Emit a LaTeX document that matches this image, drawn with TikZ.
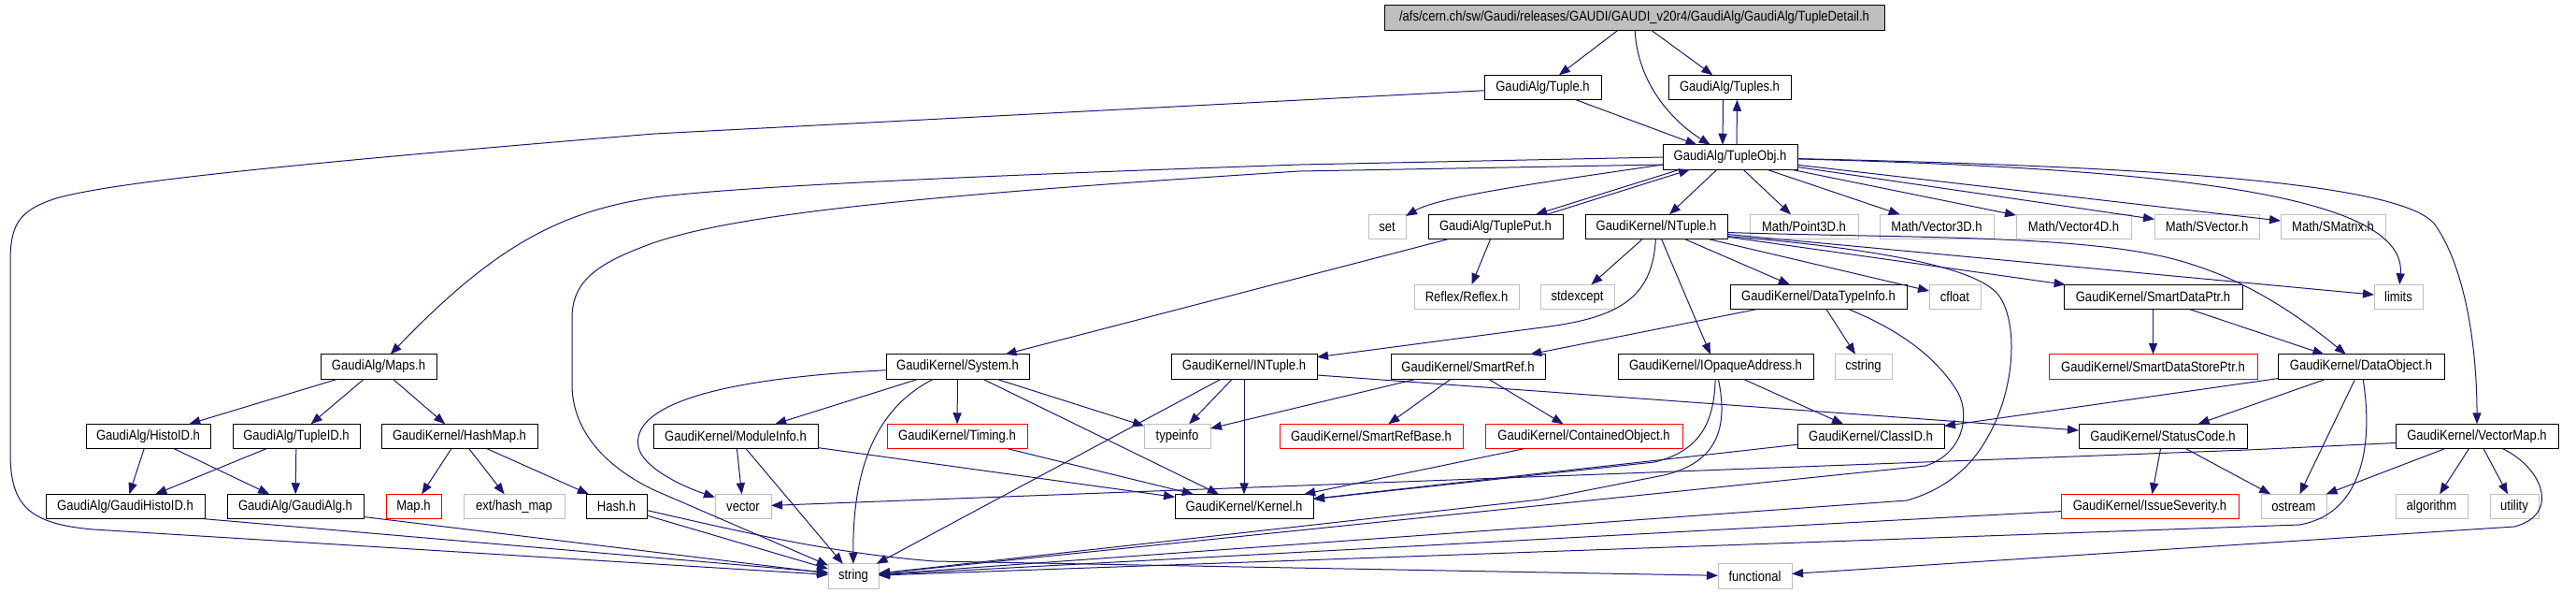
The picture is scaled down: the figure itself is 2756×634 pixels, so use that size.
\documentclass[tikz,border=0pt]{standalone}
\usepackage{fontspec}
\setmainfont{Liberation Sans}[FakeStretch=0.87]
\usetikzlibrary{arrows.meta}
\definecolor{edgec}{HTML}{191970}
\definecolor{greyb}{HTML}{BFBFBF}
\tikzset{
 nd/.style={draw=black, line width=0.5pt, minimum height=13.25pt, inner sep=0pt, outer sep=0pt, font=\fontsize{7.5}{9}\selectfont, text=black, minimum width=#1},
 gn/.style={nd=#1, draw=greyb},
 rn/.style={nd=#1, draw=red},
 edg/.style={draw=edgec, line width=0.5pt, -{Triangle[length=6pt,width=4.6pt]}}
}
\begin{document}
\begin{tikzpicture}[x=0.5pt,y=-0.5pt]
\useasboundingbox (0,0) rectangle (2756,634);
% row 0
\node[nd=267.5pt, fill=greyb] (top) at (1748.5,19) {/afs/cern.ch/sw/Gaudi/releases/GAUDI/GAUDI\_v20r4/GaudiAlg/GaudiAlg/TupleDetail.h};
% row 1
\node[nd=62.5pt] (tuple) at (1650.5,93.5) {GaudiAlg/Tuple.h};
\node[nd=65.5pt] (tuples) at (1850.5,93.5) {GaudiAlg/Tuples.h};
% row 2
\node[nd=72pt] (tobj) at (1851,168) {GaudiAlg/TupleObj.h};
% row 3
\node[gn=20pt] (set) at (1484,242.5) {set};
\node[nd=72pt] (tput) at (1600,242.5) {GaudiAlg/TuplePut.h};
\node[nd=76pt] (ntuple) at (1772,242.5) {GaudiKernel/NTuple.h};
\node[gn=58pt] (p3d) at (1930,242.5) {Math/Point3D.h};
\node[gn=61pt] (v3d) at (2072,242.5) {Math/Vector3D.h};
\node[gn=61.5pt] (v4d) at (2218.5,242.5) {Math/Vector4D.h};
\node[gn=56pt] (svec) at (2361,242.5) {Math/SVector.h};
\node[gn=56pt] (smat) at (2496,242.5) {Math/SMatrix.h};
% row 4
\node[gn=56pt] (reflex) at (1569,317.5) {Reflex/Reflex.h};
\node[gn=39.5pt] (stdexc) at (1687.5,317.5) {stdexcept};
\node[nd=94.5pt] (dti) at (1945.5,317.5) {GaudiKernel/DataTypeInfo.h};
\node[gn=27.5pt] (cfloat) at (2091.5,317.5) {cfloat};
\node[nd=95.5pt] (sdp) at (2303.5,317.5) {GaudiKernel/SmartDataPtr.h};
\node[gn=26pt] (limits) at (2566,317.5) {limits};
% row 5
\node[nd=62pt] (maps) at (405,392) {GaudiAlg/Maps.h};
\node[nd=76.5pt] (system) at (1024.5,392) {GaudiKernel/System.h};
\node[nd=78pt] (intuple) at (1331,392) {GaudiKernel/INTuple.h};
\node[nd=82.5pt] (sref) at (1570.5,392) {GaudiKernel/SmartRef.h};
\node[nd=104.5pt] (ioa) at (1835.5,392) {GaudiKernel/IOpaqueAddress.h};
\node[gn=30.5pt] (cstring) at (1993.5,392) {cstring};
\node[rn=111.5pt] (sdsp) at (2303.5,392) {GaudiKernel/SmartDataStorePtr.h};
\node[nd=89pt] (dobj) at (2526,392) {GaudiKernel/DataObject.h};
% row 6
\node[nd=66.5pt] (histoid) at (158.5,466.5) {GaudiAlg/HistoID.h};
\node[nd=68pt] (tupleid) at (317,466.5) {GaudiAlg/TupleID.h};
\node[nd=83.5pt] (hashmap) at (491.5,466.5) {GaudiKernel/HashMap.h};
\node[nd=88pt] (modinfo) at (787,466.5) {GaudiKernel/ModuleInfo.h};
\node[rn=75pt] (timing) at (1024,466.5) {GaudiKernel/Timing.h};
\node[gn=35.5pt] (typeinfo) at (1259.5,466.5) {typeinfo};
\node[rn=98pt] (srefbase) at (1467,466.5) {GaudiKernel/SmartRefBase.h};
\node[rn=105.5pt] (cobj) at (1694.5,466.5) {GaudiKernel/ContainedObject.h};
\node[nd=78.5pt] (classid) at (2001.5,466.5) {GaudiKernel/ClassID.h};
\node[nd=90pt] (scode) at (2314,466.5) {GaudiKernel/StatusCode.h};
\node[nd=87pt] (vmap) at (2650,466.5) {GaudiKernel/VectorMap.h};
% row 7
\node[nd=85pt] (ghid) at (134,541.5) {GaudiAlg/GaudiHistoID.h};
\node[nd=73pt] (galg) at (316,541.5) {GaudiAlg/GaudiAlg.h};
\node[rn=29.5pt] (maph) at (442.5,541.5) {Map.h};
\node[gn=54pt] (exthm) at (550,541.5) {ext/hash\_map};
\node[nd=32.5pt] (hash) at (659.5,541.5) {Hash.h};
\node[gn=30pt] (vector) at (795,541.5) {vector};
\node[nd=74pt] (kernel) at (1331,541.5) {GaudiKernel/Kernel.h};
\node[rn=95pt] (isev) at (2300,541.5) {GaudiKernel/IssueSeverity.h};
\node[gn=35pt] (ostream) at (2454,541.5) {ostream};
\node[gn=38.5pt] (algo) at (2601.5,541.5) {algorithm};
\node[gn=26pt] (utility) at (2690,541.5) {utility};
% row 8
\node[gn=27pt] (string) at (913,616) {string};
\node[gn=39.5pt] (functional) at (1877.5,616) {functional};

% ---- edges ----
\draw[edg] (top) -- (tuple);
\draw[edg] (top) -- (tuples);
\draw[edg] (top) .. controls (1752,90) and (1790,130) .. (tobj);
\draw[edg] (tuple) -- (tobj);
\draw[edg] ([xshift=-3.5pt]tuples.south) -- ([xshift=-4pt]tobj.north);
\draw[edg] ([xshift=3.5pt]tobj.north) -- ([xshift=4pt]tuples.south);
\draw[edg] (tuple) -- (700,143) .. controls (300,176) and (120,195) .. (60,212) .. controls (20,225) and (11,240) .. (11,280) -- (11,484) .. controls (11,540) and (30,560) .. (100,566) -- (string);
\draw[edg] (tobj.west) -- (1390,176) .. controls (1100,186) and (800,198) .. (700,211) .. controls (600,226) and (530,262) .. (maps);
\draw[edg] ([yshift=-4pt]tobj.west) -- (1390,183) .. controls (1000,208) and (780,228) .. (690,263) .. controls (640,282) and (612,300) .. (612,340) -- (612,414) .. controls (614,470) and (660,505) .. (700,524) -- (string);
\draw[edg] ([yshift=-4pt]tobj.west) .. controls (1650,195) and (1540,210) .. (set);
\draw[edg] ([xshift=-27pt]tobj.south) -- ([xshift=21.5pt]tput.north);
\draw[edg] ([xshift=27.5pt]tput.north) -- ([xshift=-21.5pt]tobj.south);
\draw[edg] (tobj) -- (ntuple);
\draw[edg] (tobj) -- (p3d);
\draw[edg] (tobj) -- (v3d);
\draw[edg] (tobj) -- (v4d);
\draw[edg] (tobj) -- (svec);
\draw[edg] (tobj) -- (smat);
\draw[edg] (tobj) .. controls (2300,180) and (2576,205) .. (limits);
\draw[edg] (tobj) .. controls (2300,178) and (2570,195) .. (2605,240) .. controls (2640,290) and (2650,380) .. (vmap);

\draw[edg] (tput) -- (reflex);
\draw[edg] (tput) -- (system);

\draw[edg] (ntuple) -- (stdexc);
\draw[edg] (ntuple) .. controls (1768,320) and (1730,340) .. (1650,350) -- (intuple);
\draw[edg] (ntuple) -- (ioa);
\draw[edg] (ntuple) -- (dti);
\draw[edg] (ntuple) -- (cfloat);
\draw[edg] (ntuple) -- (sdp);
\draw[edg] ([yshift=-4pt]ntuple.east) -- (limits);
\draw[edg] ([yshift=-3pt]ntuple.east) .. controls (2050,255) and (2250,250) .. (2346,283) .. controls (2400,300) and (2450,330) .. (dobj);
\draw[edg] ([yshift=-5pt]ntuple.east) .. controls (2000,265) and (2120,285) .. (2140,318) .. controls (2160,350) and (2155,420) .. (2125,470) .. controls (2105,505) and (2075,525) .. (2040,535) -- (string);

\draw[edg] (dti) -- (sref);
\draw[edg] (dti) -- (cstring);
\draw[edg] (dti) .. controls (2050,360) and (2080,395) .. (2095,420) .. controls (2108,445) and (2100,485) .. (2060,498) -- (string);

\draw[edg] (sdp) -- (sdsp);
\draw[edg] (sdp) -- (dobj);
\draw[edg] (dobj) -- (classid);
\draw[edg] (dobj) -- (scode);
\draw[edg] (dobj) -- (ostream);
\draw[edg] (dobj) .. controls (2540,480) and (2525,550) .. (2460,561) -- (string);
\draw[edg] (scode) -- (isev);
\draw[edg] (scode) -- (ostream);
\draw[edg] (isev) -- (string);
\draw[edg] ([yshift=-3.5pt]vmap.west) -- (2404,481) -- (vector);
\draw[edg] (vmap) -- (ostream);
\draw[edg] (vmap) -- (algo);
\draw[edg] (vmap) -- (utility);
\draw[edg] (vmap) .. controls (2720,500) and (2740,550) .. (2690,563) -- (functional);

\draw[edg] (maps) -- (histoid);
\draw[edg] (maps) -- (tupleid);
\draw[edg] (maps) -- (hashmap);
\draw[edg] (histoid) -- (ghid);
\draw[edg] (histoid) -- (galg);
\draw[edg] (tupleid) -- (ghid);
\draw[edg] (tupleid) -- (galg);
\draw[edg] (hashmap) -- (maph);
\draw[edg] (hashmap) -- (exthm);
\draw[edg] (hashmap) -- (hash);
\draw[edg] (ghid.south east) -- ([yshift=2pt]string.west);
\draw[edg] ([yshift=-5.5pt]galg.east) -- (string);
\draw[edg] (hash) -- (string);
\draw[edg] ([yshift=-2pt]hash.east) .. controls (820,575) and (900,592) .. (1000,600) -- (functional);

\draw[edg] (system) -- (modinfo);
\draw[edg] (system) -- (timing);
\draw[edg] (system) -- (typeinfo);
\draw[edg] (system) -- (kernel);
\draw[edg] (system) .. controls (950,430) and (912,480) .. (string);
\draw[edg] (system) .. controls (760,405) and (675,435) .. (683,478) .. controls (688,500) and (730,520) .. (vector);
\draw[edg] (modinfo) -- (vector);
\draw[edg] (modinfo) -- (string);
\draw[edg] (modinfo) -- (kernel);
\draw[edg] (timing) -- (kernel);
\draw[edg] (intuple) -- (typeinfo);
\draw[edg] (intuple) -- (kernel);
\draw[edg] (intuple) -- (string);
\draw[edg] ([yshift=-4.5pt]intuple.east) -- (scode);
\draw[edg] (sref) -- (typeinfo);
\draw[edg] (sref) -- (srefbase);
\draw[edg] (sref) -- (cobj);
\draw[edg] (cobj) -- (kernel);
\draw[edg] (ioa) -- (classid);
\draw[edg] (ioa) .. controls (1834,450) and (1820,482) .. (1770,494) -- (kernel);
\draw[edg] (ioa) .. controls (1850,460) and (1835,495) .. (1780,508) -- (1648,534) -- (string);
\draw[edg] (classid) -- (kernel);
\end{tikzpicture}
\end{document}
